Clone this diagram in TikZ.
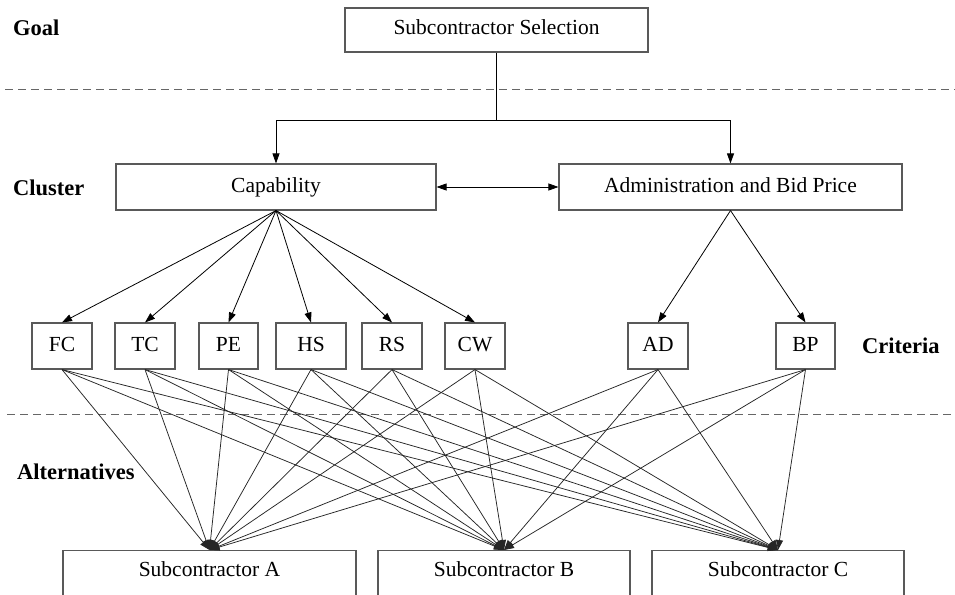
\documentclass[tikz,border=0pt]{standalone}
\usepackage{fontspec}
\setmainfont{Liberation Serif}
\usetikzlibrary{arrows.meta}

\begin{document}
\begin{tikzpicture}[
  x=1pt, y=-1pt,
  font=\fontsize{21.5}{25}\selectfont,
  >={Triangle[length=10pt,width=7pt]},
  box/.style={rectangle, draw=black!65, line width=1.1pt, fill=white,
              inner sep=2pt, text height=14pt, text depth=4pt},
  crit/.style={box, minimum height=46pt},
  alt/.style={box, anchor=north, inner ysep=4pt, text height=22pt,
              text depth=30pt},
  flow/.style={->, draw=black, line width=0.8pt},
  link/.style={->, draw=black!85, line width=0.75pt},
  sep/.style={draw=black!60, dashed, dash pattern=on 8pt off 5pt,
              line width=0.9pt},
  lvl/.style={font=\fontsize{22.5}{26}\selectfont\bfseries, anchor=west,
              inner sep=0pt},
]

% --- fixed bounding box (white background) ---
\clip (0,0) rectangle (955,594);
\fill[white] (0,0) rectangle (955,594);

% --- level separators ---
\draw[sep] (5,89) -- (955,89);
\draw[sep] (7,414) -- (955,414);

% ============================ NODES =================================
% level labels
\node[lvl] (lgoal) at (13,28) {Goal};
\node[lvl] (lclus) at (13,188) {Cluster};
\node[lvl] (lcrit) at (862,346) {Criteria};
\node[lvl] (lalt)  at (17,472) {Alternatives};

% Goal
\node[box, minimum width=303pt, minimum height=44pt] (goal)
  at (496.5,30) {Subcontractor Selection};

% Clusters
\node[box, minimum width=320pt, minimum height=46pt] (cap)
  at (276,187) {Capability};
\node[box, minimum width=343pt, minimum height=46pt] (adm)
  at (730.5,187) {Administration and Bid Price};

% Criteria
\node[crit, minimum width=60pt] (fc) at (62,346)  {FC};
\node[crit, minimum width=60pt] (tc) at (145,346) {TC};
\node[crit, minimum width=59pt] (pe) at (228.5,346) {PE};
\node[crit, minimum width=70pt] (hs) at (311,346) {HS};
\node[crit, minimum width=60pt] (rs) at (392,346) {RS};
\node[crit, minimum width=60pt] (cw) at (475,346) {CW};
\node[crit, minimum width=60pt] (ad) at (658,346) {AD};
\node[crit, minimum width=59pt] (bp) at (805.5,346) {BP};

% Alternatives
\node[alt, minimum width=293pt] (subA) at (209.5,550) {Subcontractor A};
\node[alt, minimum width=252pt] (subB) at (504,550)   {Subcontractor B};
\node[alt, minimum width=252pt] (subC) at (778,550)   {Subcontractor C};

% ============================ EDGES =================================
% goal -> clusters
\coordinate (split) at (496.5,120);
\draw[flow] (goal.south) -- (split) -| (cap.north);
\draw[flow] (split) -| (adm.north);
\draw[flow, <->] (cap.east) -- (adm.west);

% clusters -> criteria
\draw[flow] (cap.south) -- (fc.north);
\draw[flow] (cap.south) -- (tc.north);
\draw[flow] (cap.south) -- (pe.north);
\draw[flow] (cap.south) -- (hs.north);
\draw[flow] (cap.south) -- (rs.north);
\draw[flow] (cap.south) -- (cw.north);
\draw[flow] (adm.south) -- (ad.north);
\draw[flow] (adm.south) -- (bp.north);

% criteria -> alternatives
\draw[link] (fc.south) -- (subA.north); \draw[link] (fc.south) -- (subB.north); \draw[link] (fc.south) -- (subC.north);
\draw[link] (tc.south) -- (subA.north); \draw[link] (tc.south) -- (subB.north); \draw[link] (tc.south) -- (subC.north);
\draw[link] (pe.south) -- (subA.north); \draw[link] (pe.south) -- (subB.north); \draw[link] (pe.south) -- (subC.north);
\draw[link] (hs.south) -- (subA.north); \draw[link] (hs.south) -- (subB.north); \draw[link] (hs.south) -- (subC.north);
\draw[link] (rs.south) -- (subA.north); \draw[link] (rs.south) -- (subB.north); \draw[link] (rs.south) -- (subC.north);
\draw[link] (cw.south) -- (subA.north); \draw[link] (cw.south) -- (subB.north); \draw[link] (cw.south) -- (subC.north);
\draw[link] (ad.south) -- (subA.north); \draw[link] (ad.south) -- (subB.north); \draw[link] (ad.south) -- (subC.north);
\draw[link] (bp.south) -- (subA.north); \draw[link] (bp.south) -- (subB.north); \draw[link] (bp.south) -- (subC.north);

\end{tikzpicture}
\end{document}
